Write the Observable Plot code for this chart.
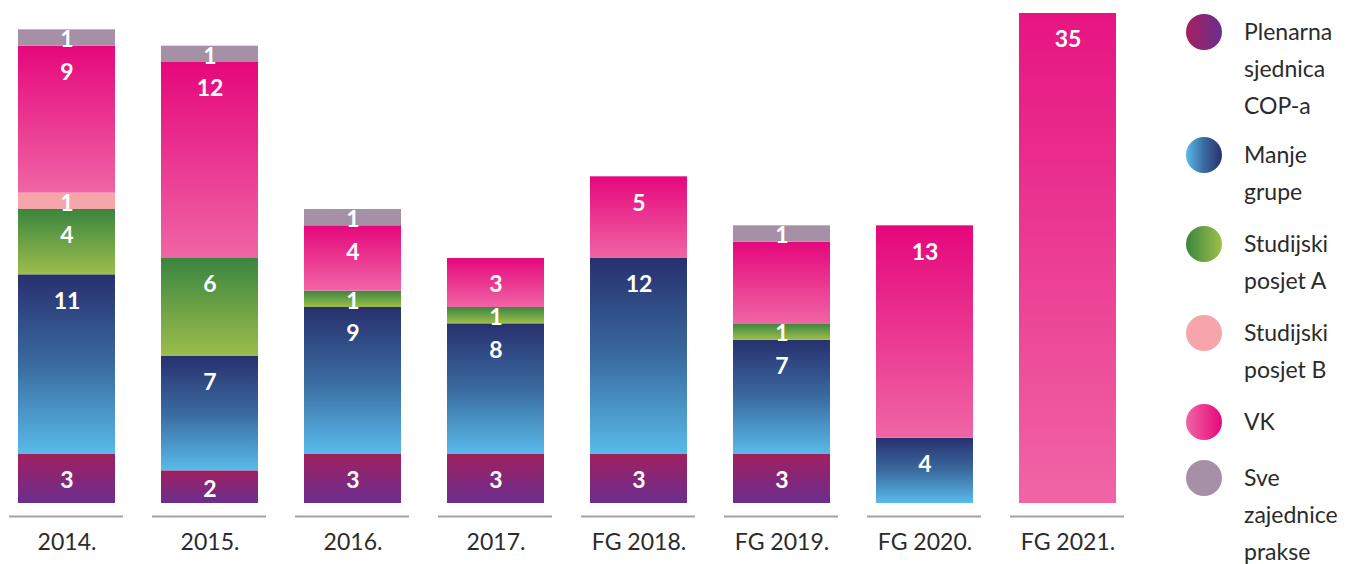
<!DOCTYPE html>
<html>
<head>
<meta charset="utf-8">
<script src="https://cdn.jsdelivr.net/npm/d3@7"></script>
<script src="https://cdn.jsdelivr.net/npm/@observablehq/plot@0.6"></script>
<style>
  body { margin: 0; background: #fff; font-family: Lato, "Open Sans", sans-serif; }
  #wrap { position: relative; width: 1358px; height: 564px; }
  #legend { position: absolute; left: 1186px; top: 13px; color: #2b2b2b; font-size: 23px; }
  .entry { display: flex; align-items: flex-start; margin-bottom: 15px; }
  .entry.first { margin-bottom: 12px; }
  .entry.wide { margin-bottom: 19px; }
  .dot { width: 36px; height: 36px; border-radius: 50%; margin-top: 1px; margin-right: 22px; flex: none; }
  .lbl { line-height: 37px; }
</style>
</head>
<body>
<div id="wrap"><div id="legend"></div></div>
<script>
const categories = ["2014.", "2015.", "2016.", "2017.", "FG 2018.", "FG 2019.", "FG 2020.", "FG 2021."];
const series = ["Plenarna sjednica COP-a", "Manje grupe", "Studijski posjet A", "Studijski posjet B", "VK", "Sve zajednice prakse"];
const plenarna   = [3, 2, 3, 3, 3, 3, 0, 0];
const manjeGrupe = [11, 7, 9, 8, 12, 7, 4, 0];
const studijskiA = [4, 6, 1, 1, 0, 1, 0, 0];
const studijskiB = [1, 0, 0, 0, 0, 0, 0, 0];
const vk         = [9, 12, 4, 3, 5, 5, 13, 35];
const sve        = [1, 1, 1, 0, 0, 1, 0, 0];
const hiddenLabels = [["FG 2019.", "VK"]];
const legendLines = [["Plenarna", "sjednica", "COP-a"], ["Manje", "grupe"], ["Studijski", "posjet A"], ["Studijski", "posjet B"], ["VK"], ["Sve", "zajednice", "prakse"]];
const yMax = 30; // axis is cut at 30 (FG 2021. bar is truncated)

const seriesValues = [plenarna, manjeGrupe, studijskiA, studijskiB, vk, sve];
// vertical gradients (top -> bottom) per series
const gradStops = [
  ["#a0205f", "#6a2e8f"],
  ["#28306e", "#3a6a9f", "#58bbea"],
  ["#3a853f", "#9dbd4c"],
  ["#f6a6ab", "#f6a6ab"],
  ["#e5077c", "#f065a5"],
  ["#a590a5", "#a590a5"]
];
const legendGrad = [
  "linear-gradient(to right, #a6205d, #6a2e8f)",
  "linear-gradient(to right, #58bbea, #3a6a9f, #28306e)",
  "linear-gradient(to right, #3a853f, #a0bf4c)",
  "#f6a6ab",
  "linear-gradient(to right, #f065a5, #e5077c)",
  "#a590a5"
];

const rows = [];
categories.forEach((c, i) => {
  let acc = 0;
  series.forEach((s, j) => {
    const v = seriesValues[j][i];
    if (v > 0) {
      const top = acc + v;
      const hidden = hiddenLabels.some(([hc, hs]) => hc === c && hs === s);
      rows.push({
        cat: c, series: s, value: v, y1: acc, y2: top,
        labelY: Math.min(top, yMax) - Math.min(v / 2, 1.5),
        label: hidden ? "" : String(v)
      });
      acc = top;
    }
  });
});

const plot = Plot.plot({
  width: 1358,
  height: 564,
  marginLeft: 0,
  marginRight: 224,
  marginTop: 13,
  marginBottom: 61,
  style: { fontFamily: "Lato, 'Open Sans', sans-serif", background: "transparent" },
  x: { domain: categories, paddingInner: 0.325, paddingOuter: 0.112, axis: null },
  y: { domain: [0, yMax], axis: null },
  color: { type: "ordinal", domain: series, range: series.map((s, i) => `url(#grad${i})`) },
  marks: [
    Plot.barY(rows, { x: "cat", y1: "y1", y2: "y2", fill: "series", clip: true }),
    Plot.text(rows, { x: "cat", y: "labelY", text: "label", fill: "white", fontSize: 23, fontWeight: 700, dy: 2 }),
    Plot.tickY(categories, { x: d => d, y: 0, dy: 13, stroke: "#ad9aad", strokeWidth: 2, insetLeft: -9, insetRight: -8 }),
    Plot.axisX({ tickSize: 0, tickPadding: 30, fontSize: 23, fill: "#2b2b2b", label: null })
  ]
});

const defs = d3.select(plot).insert("defs", ":first-child");
gradStops.forEach((stops, i) => {
  const g = defs.append("linearGradient").attr("id", `grad${i}`)
    .attr("x1", 0).attr("y1", 0).attr("x2", 0).attr("y2", 1);
  stops.forEach((c, k) => g.append("stop").attr("offset", k / (stops.length - 1)).attr("stop-color", c));
});

const wrap = document.getElementById("wrap");
wrap.insertBefore(plot, wrap.firstChild);

const legend = document.getElementById("legend");
series.forEach((s, i) => {
  const e = document.createElement("div");
  e.className = "entry" + (i === 0 ? " first" : "") + (i === 4 ? " wide" : "");
  const dot = document.createElement("div");
  dot.className = "dot";
  dot.style.background = legendGrad[i];
  const lbl = document.createElement("div");
  lbl.className = "lbl";
  lbl.innerHTML = legendLines[i].join("<br>");
  e.appendChild(dot);
  e.appendChild(lbl);
  legend.appendChild(e);
});
</script>
</body>
</html>
